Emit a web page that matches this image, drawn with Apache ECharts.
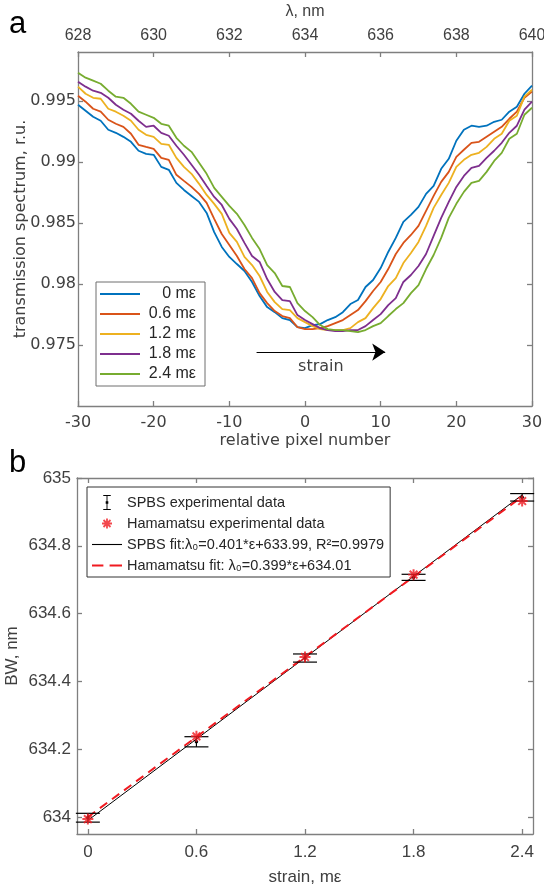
<!DOCTYPE html>
<html>
<head>
<meta charset="utf-8">
<title>Spectrum shift and BW vs strain</title>
<script src="https://cdn.jsdelivr.net/npm/echarts@6.0.0/dist/echarts.min.js"></script>
<style>
    html, body { margin: 0; padding: 0; background: #fff; }
    #main { width: 544px; height: 891px; }
</style>
</head>
<body>
<div id="main"></div>
<script>
// panel a: transmission spectra vs relative pixel number
var pixelNum = [-30, -29, -28, -27, -26, -25, -24, -23, -22, -21, -20, -19, -18, -17, -16, -15, -14, -13, -12, -11,
    -10, -9, -8, -7, -6, -5, -4, -3, -2, -1, 0, 1, 2, 3, 4, 5, 6, 7, 8, 9, 10, 11, 12, 13, 14, 15, 16, 17, 18, 19,
    20, 21, 22, 23, 24, 25, 26, 27, 28, 29, 30];
var strainNames = ['0 mε', '0.6 mε', '1.2 mε', '1.8 mε', '2.4 mε'];
var spec0 = [0.99468, 0.99419, 0.9937, 0.99337, 0.99263, 0.99238, 0.99205, 0.99164, 0.99091, 0.99066,
    0.99058, 0.98959, 0.98935, 0.98828, 0.9877, 0.98721, 0.98672, 0.98582, 0.98425, 0.98303,
    0.98221, 0.98163, 0.98106, 0.98016, 0.97901, 0.9781, 0.97769, 0.9772, 0.97704, 0.97646,
    0.97638,
    0.97663, 0.97671, 0.97704, 0.97728, 0.97769, 0.97835, 0.97868, 0.97975, 0.98032, 0.9813,
    0.98262, 0.98377, 0.98508, 0.98565, 0.98631, 0.98738, 0.98803, 0.98943, 0.99025, 0.99173,
    0.99263, 0.99296, 0.99287, 0.99296, 0.99328, 0.99345, 0.99411, 0.99452, 0.99558, 0.99624];
var spec06 = [0.99542, 0.99493, 0.99435, 0.99411, 0.99345, 0.99312, 0.99287, 0.9923, 0.9914, 0.99123,
    0.99107, 0.99033, 0.99017, 0.98894, 0.98844, 0.98795, 0.98738, 0.98664, 0.98533, 0.98409,
    0.98319, 0.98229, 0.98122, 0.98048, 0.97925, 0.97843, 0.97778, 0.97737, 0.9772, 0.97646,
    0.9763,
    0.9763, 0.97638, 0.97654, 0.97679, 0.97704, 0.97745, 0.97786, 0.97859, 0.97942, 0.98016,
    0.98122, 0.98245, 0.98336, 0.98401, 0.98475, 0.98598, 0.98721, 0.98836, 0.98918, 0.99041,
    0.99099, 0.99156, 0.99164, 0.99205, 0.99246, 0.99287, 0.99353, 0.99411, 0.99525, 0.99575];
var spec12 = [0.99616, 0.99558, 0.99525, 0.99517, 0.99435, 0.99411, 0.99378, 0.99337, 0.99263, 0.99222,
    0.99205, 0.99148, 0.9914, 0.99033, 0.98959, 0.98902, 0.9882, 0.98729, 0.98656, 0.98574,
    0.98418, 0.98344, 0.98221, 0.98155, 0.98065, 0.97934, 0.97851, 0.97794, 0.97786, 0.9772,
    0.97687,
    0.97654, 0.9763, 0.97622, 0.97622, 0.97622, 0.97638, 0.97687, 0.9772, 0.97802, 0.97876,
    0.97983, 0.98048, 0.98171, 0.98254, 0.98344, 0.98475, 0.98623, 0.98729, 0.98828, 0.98959,
    0.99017, 0.99058, 0.99074, 0.99123, 0.99189, 0.9923, 0.99337, 0.99378, 0.99534, 0.99591];
var spec18 = [0.99657, 0.99616, 0.99583, 0.99566, 0.99525, 0.99468, 0.99427, 0.99394, 0.99337, 0.99287,
    0.99296, 0.99238, 0.99214, 0.99132, 0.99058, 0.98976, 0.98894, 0.98803, 0.98713, 0.98647,
    0.98533, 0.9845, 0.98336, 0.98229, 0.9818, 0.9804, 0.97934, 0.97868, 0.97859, 0.97745,
    0.97704,
    0.97671, 0.97638, 0.97622, 0.97613, 0.97613, 0.97622, 0.97622, 0.97654, 0.97704, 0.97753,
    0.97827, 0.97884, 0.98016, 0.98073, 0.98147, 0.98245, 0.98393, 0.98541, 0.98672, 0.98795,
    0.98885, 0.98951, 0.98967, 0.99033, 0.99091, 0.99156, 0.99238, 0.99296, 0.99427, 0.99493];
var spec24 = [0.99731, 0.9969, 0.99665, 0.9964, 0.99583, 0.99534, 0.99525, 0.99476, 0.99411, 0.99386,
    0.99361, 0.99312, 0.99296, 0.99197, 0.99132, 0.99082, 0.98992, 0.98902, 0.98787, 0.98713,
    0.98639, 0.98574, 0.98483, 0.98377, 0.98286, 0.98155, 0.98089, 0.97983, 0.97975, 0.97843,
    0.97778,
    0.97728, 0.97663, 0.9763, 0.97622, 0.97622, 0.97613, 0.97605, 0.97622, 0.97654, 0.97679,
    0.97737, 0.97794, 0.97843, 0.97925, 0.97991, 0.98122, 0.98237, 0.98377, 0.98541, 0.98656,
    0.98754, 0.98828, 0.98844, 0.98918, 0.99008, 0.99074, 0.99189, 0.9923, 0.99386, 0.99443];
var specColors = ['#0072BD', '#D95319', '#EDB120', '#7E2F8E', '#77AC30'];
var specTicks = [0.975, 0.98, 0.985, 0.99, 0.995];
// "strain" arrow, in data coordinates of panel a
var arrowFrom = [-6.4, 0.97442];
var arrowTo = [10.6, 0.97442];

// panel b: BW vs strain
var strain = [0, 0.6, 1.2, 1.8, 2.4];
var strainTicks = [0, 0.6, 1.2, 1.8, 2.4];
var bwTicks = [634, 634.2, 634.4, 634.6, 634.8, 635];
var spbsBW = [633.998, 634.222, 634.469, 634.707, 634.943];
var spbsErr = [0.013, 0.015, 0.012, 0.009, 0.011];
var hamaBW = [633.994, 634.238, 634.472, 634.715, 634.932];
var fitX = [0, 2.4];
var spbsFitBW = [633.99, 634.95];
var hamaFitBW = [634.0, 634.945];

var axisGray = '#7f7f7f';
var textGray = '#404040';
var dejavu = 'DejaVu Sans';
var helv = 'Liberation Sans';

var asterisk = 'path://M-0.9,-5L0.9,-5L0.9,5L-0.9,5Z M-5,-0.9L5,-0.9L5,0.9L-5,0.9Z ' +
    'M-2.86,-4.14L4.14,2.86L2.86,4.14L-4.14,-2.86Z M-4.14,2.86L2.86,-4.14L4.14,-2.86L-2.86,4.14Z';
var asteriskIcon = asterisk + ' M-7.5,-7.5L-7.5,-7.5Z M7.5,7.5L7.5,7.5Z';
var errBarIcon = 'path://M0,0H8V1H4.5V15H8V16H0V15H3.5V1H0Z M2.6,6.6H5.4V9.4H2.6Z';
var lineIconA = 'path://M0,0H40V1.8H0Z';
var lineIconB = 'path://M0,0H30V1.1H0Z';
var dashIconB = 'path://M0,0H11V2H0Z M17,0H29V2H17Z';

var chartDom = document.getElementById('main');
var myChart = echarts.init(chartDom, null, {renderer: 'canvas'});

function pairs(xs, ys) {
    return xs.map(function (x, i) { return [x, ys[i]]; });
}

function boxAxis(extra) {
    var base = {
        type: 'value',
        axisLine: {show: true, onZero: false, lineStyle: {color: axisGray, width: 1.3}},
        axisTick: {show: true, inside: true, length: 5, lineStyle: {color: axisGray, width: 1.3}},
        splitLine: {show: false},
        axisLabel: {show: false}
    };
    return Object.assign(base, extra);
}

function errBar(params, api) {
    var x = api.value(0);
    var lo = api.coord([x, api.value(1) - api.value(2)]);
    var hi = api.coord([x, api.value(1) + api.value(2)]);
    var mid = api.coord([x, api.value(1)]);
    var half = 12;
    var st = {stroke: '#000', lineWidth: 1.2};
    return {
        type: 'group',
        children: [
            {type: 'line', shape: {x1: lo[0], y1: lo[1], x2: hi[0], y2: hi[1]}, style: st},
            {type: 'line', shape: {x1: lo[0] - half, y1: lo[1], x2: lo[0] + half, y2: lo[1]}, style: st},
            {type: 'line', shape: {x1: hi[0] - half, y1: hi[1], x2: hi[0] + half, y2: hi[1]}, style: st},
            {type: 'circle', shape: {cx: mid[0], cy: mid[1], r: 1.8}, style: {fill: '#000'}}
        ]
    };
}

var specData = [spec0, spec06, spec12, spec18, spec24];
var specSeries = specData.map(function (arr, i) {
    return {
        name: strainNames[i],
        type: 'line',
        xAxisIndex: 0,
        yAxisIndex: 0,
        symbol: 'none',
        data: pairs(pixelNum, arr),
        lineStyle: {color: specColors[i], width: 1.8},
        itemStyle: {color: specColors[i]},
        silent: true
    };
});
// arrow annotation rides on the first curve
specSeries[0].markLine = {
    silent: true,
    symbol: ['none', 'arrow'],
    symbolSize: 13,
    lineStyle: {color: '#000', width: 1.2, type: 'solid'},
    label: {
        show: true, position: 'insideMiddleBottom', distance: 7, formatter: 'strain',
        color: textGray, fontFamily: dejavu, fontSize: 16
    },
    data: [[{coord: arrowFrom}, {coord: arrowTo}]]
};

var option = {
    animation: false,
    backgroundColor: '#fff',
    grid: [
        {left: 78, top: 52, width: 454, height: 354, outerBoundsMode: 'none', containLabel: false},
        {left: 77, top: 478, width: 456, height: 356, outerBoundsMode: 'none', containLabel: false}
    ],
    xAxis: [
        boxAxis({
            gridIndex: 0, position: 'bottom', min: -30, max: 30, interval: 10,
            axisLabel: {show: true, color: textGray, fontFamily: dejavu, fontSize: 16, margin: 9},
            name: 'relative pixel number', nameLocation: 'middle', nameGap: 27,
            nameTextStyle: {color: textGray, fontFamily: dejavu, fontSize: 16}
        }),
        boxAxis({
            gridIndex: 0, position: 'top', min: 628, max: 640, interval: 2,
            axisLabel: {show: true, color: textGray, fontFamily: helv, fontSize: 16, margin: 8},
            name: 'λ, nm', nameLocation: 'middle', nameGap: 32,
            nameTextStyle: {color: textGray, fontFamily: helv, fontSize: 16}
        }),
        boxAxis({
            gridIndex: 1, position: 'bottom', min: -0.06, max: 2.46,
            axisTick: {show: true, inside: true, length: 5, customValues: strainTicks,
                lineStyle: {color: axisGray, width: 1.3}},
            axisLabel: {show: true, customValues: strainTicks, color: textGray, fontFamily: helv,
                fontSize: 17, margin: 10},
            name: 'strain, mε', nameLocation: 'middle', nameGap: 35,
            nameTextStyle: {color: textGray, fontFamily: helv, fontSize: 17}
        }),
        boxAxis({
            gridIndex: 1, position: 'top', min: -0.06, max: 2.46,
            axisTick: {show: true, inside: true, length: 5, customValues: strainTicks,
                lineStyle: {color: axisGray, width: 1.3}}
        })
    ],
    yAxis: [
        boxAxis({
            gridIndex: 0, position: 'left', min: 0.97, max: 0.999,
            axisTick: {show: true, inside: true, length: 5, customValues: specTicks,
                lineStyle: {color: axisGray, width: 1.3}},
            axisLabel: {show: true, customValues: specTicks, color: textGray, fontFamily: dejavu,
                fontSize: 16, margin: 2,
                formatter: function (v) { return String(+v.toFixed(3)); }},
            name: 'transmission spectrum, r.u.', nameLocation: 'middle', nameGap: 49,
            nameMoveOverlap: false,
            nameTextStyle: {color: textGray, fontFamily: dejavu, fontSize: 16}
        }),
        boxAxis({
            gridIndex: 0, position: 'right', min: 0.97, max: 0.999,
            axisTick: {show: true, inside: true, length: 5, customValues: specTicks,
                lineStyle: {color: axisGray, width: 1.3}}
        }),
        boxAxis({
            gridIndex: 1, position: 'left', min: 633.95, max: 635,
            axisTick: {show: true, inside: true, length: 5, customValues: bwTicks,
                lineStyle: {color: axisGray, width: 1.3}},
            axisLabel: {show: true, customValues: bwTicks, color: textGray, fontFamily: helv,
                fontSize: 17, margin: 6,
                formatter: function (v) { return String(+v.toFixed(1)); }},
            name: 'BW, nm', nameLocation: 'middle', nameGap: 56,
            nameMoveOverlap: false,
            nameTextStyle: {color: textGray, fontFamily: helv, fontSize: 17}
        }),
        boxAxis({
            gridIndex: 1, position: 'right', min: 633.95, max: 635,
            axisTick: {show: true, inside: true, length: 5, customValues: bwTicks,
                lineStyle: {color: axisGray, width: 1.3}}
        })
    ],
    legend: [
        {
            data: strainNames.map(function (n) { return {name: n, icon: lineIconA}; }),
            orient: 'vertical',
            left: 96, top: 282,
            padding: [4, 9, 4, 4],
            itemWidth: 40, itemHeight: 14, itemGap: 4,
            backgroundColor: '#fff',
            borderColor: '#6e6e6e', borderWidth: 1, borderRadius: 0,
            selectedMode: false,
            formatter: function (name) { return '{r|' + name + '}'; },
            textStyle: {
                rich: {r: {width: 51, align: 'right', fontFamily: helv, fontSize: 16, color: '#262626'}}
            }
        },
        {
            data: [
                {name: 'SPBS experimental data', icon: errBarIcon, itemStyle: {color: '#000'}},
                {name: 'Hamamatsu experimental data', icon: asteriskIcon},
                {name: 'SPBS fit:λ₀=0.401*ε+633.99, R²=0.9979', icon: lineIconB},
                {name: 'Hamamatsu fit: λ₀=0.399*ε+634.01', icon: dashIconB}
            ],
            orient: 'vertical',
            left: 87, top: 487,
            padding: [8, 6, 4, 5],
            itemWidth: 30, itemHeight: 15, itemGap: 6,
            backgroundColor: '#fff',
            borderColor: '#333', borderWidth: 1, borderRadius: 0,
            selectedMode: false,
            textStyle: {fontFamily: helv, fontSize: 14.5, color: '#262626'}
        }
    ],
    graphic: [
        {type: 'text', left: 9, top: 9, style: {text: 'a', font: '31px Liberation Sans', fill: '#000'}},
        {type: 'text', left: 9, top: 448, style: {text: 'b', font: '31px Liberation Sans', fill: '#000'}}
    ],
    series: specSeries.concat([
        {
            name: 'SPBS fit:λ₀=0.401*ε+633.99, R²=0.9979',
            type: 'line',
            xAxisIndex: 2, yAxisIndex: 2,
            symbol: 'none',
            data: pairs(fitX, spbsFitBW),
            lineStyle: {color: '#000', width: 1},
            itemStyle: {color: '#000'},
            z: 3
        },
        {
            name: 'Hamamatsu fit: λ₀=0.399*ε+634.01',
            type: 'line',
            xAxisIndex: 2, yAxisIndex: 2,
            symbol: 'none',
            data: pairs(fitX, hamaFitBW),
            lineStyle: {color: '#f01a20', width: 2, type: [9, 6]},
            itemStyle: {color: '#f01a20'},
            z: 4
        },
        {
            name: 'SPBS experimental data',
            type: 'custom',
            xAxisIndex: 2, yAxisIndex: 2,
            renderItem: errBar,
            encode: {x: 0, y: 1},
            itemStyle: {color: '#000'},
            data: strain.map(function (s, i) { return [s, spbsBW[i], spbsErr[i]]; }),
            z: 5
        },
        {
            name: 'Hamamatsu experimental data',
            type: 'scatter',
            xAxisIndex: 2, yAxisIndex: 2,
            symbol: asterisk,
            symbolSize: 11,
            itemStyle: {color: '#f01a20'},
            data: pairs(strain, hamaBW),
            z: 6
        }
    ])
};

option && myChart.setOption(option);
</script>
</body>
</html>
